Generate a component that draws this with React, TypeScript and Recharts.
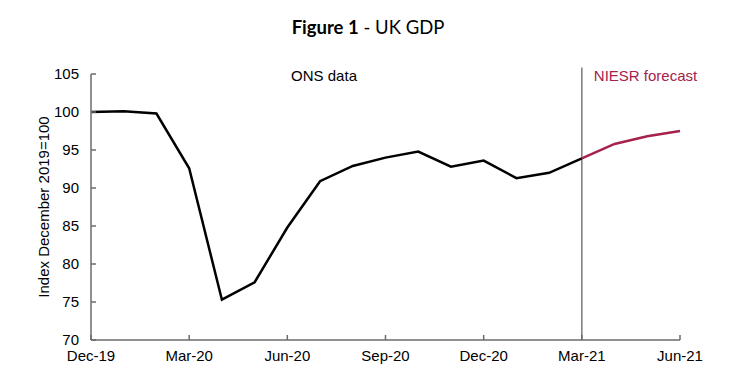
import React from "react";
import {
  LineChart,
  Line,
  XAxis,
  YAxis,
  ReferenceLine,
  ReferenceDot,
} from "recharts";

const months = [
  "Dec-19", "Jan-20", "Feb-20", "Mar-20", "Apr-20", "May-20", "Jun-20",
  "Jul-20", "Aug-20", "Sep-20", "Oct-20", "Nov-20", "Dec-20",
  "Jan-21", "Feb-21", "Mar-21", "Apr-21", "May-21", "Jun-21",
];

// ONS outturn, Dec-19 to Mar-21
const onsData = [
  100.0, 100.1, 99.8, 92.6, 75.3, 77.6, 84.8,
  90.9, 92.9, 94.0, 94.8, 92.8, 93.6,
  91.3, 92.0, 93.9,
];

// NIESR forecast, Mar-21 to Jun-21
const niesrData = [93.9, 95.8, 96.8, 97.5];
const forecastStart = 15;

const yTicks = [70, 75, 80, 85, 90, 95, 100, 105];

const data = months.map((m, i) => ({
  month: m,
  ons: i < onsData.length ? onsData[i] : null,
  niesr: i >= forecastStart ? niesrData[i - forecastStart] : null,
}));

const AXIS = "#6b6b6b";
const FONT = "'Liberation Sans', Arial, sans-serif";
const FS = 15;

const XTick = (props: any) => {
  const { x, y, payload } = props;
  return (
    <g>
      <line x1={x} y1={y} x2={x} y2={y - 5} stroke={AXIS} strokeWidth={1.5} />
      <text x={x} y={y + 21} textAnchor="middle" fill="#000" fontSize={FS} fontFamily={FONT}>
        {payload.value}
      </text>
    </g>
  );
};

const YTick = (props: any) => {
  const { x, y, payload } = props;
  return (
    <g>
      <line x1={x} y1={y} x2={x + 5} y2={y} stroke={AXIS} strokeWidth={1.5} />
      <text x={x - 12} y={y + 5} textAnchor="end" fill="#000" fontSize={FS} fontFamily={FONT}>
        {payload.value}
      </text>
    </g>
  );
};

export default function App() {
  return (
    <div style={{ position: "absolute", left: 0, top: 0, width: 736, height: 386, background: "#fff" }}>
      <div
        style={{
          position: "absolute",
          top: 16,
          left: 0,
          width: 736,
          textAlign: "center",
          fontFamily: "Lato, sans-serif",
          fontSize: 18.5,
          color: "#000",
        }}
      >
        <b>Figure 1</b> - UK GDP
      </div>
      <LineChart
        width={736}
        height={386}
        data={data}
        margin={{ top: 74, right: 56, bottom: 45, left: 41 }}
      >
        <XAxis
          dataKey="month"
          interval={2}
          tickSize={0}
          tickMargin={0}
          tick={<XTick />}
          axisLine={{ stroke: AXIS, strokeWidth: 1.5 }}
          height={1}
        />
        <YAxis
          domain={[70, 105]}
          ticks={yTicks}
          width={50}
          tickSize={0}
          tickMargin={0}
          tick={<YTick />}
          axisLine={{ stroke: AXIS, strokeWidth: 1.5 }}
          label={(p: any) => {
            const vb = p.viewBox;
            const cx = 43;
            const cy = vb.y + vb.height / 2;
            return (
              <text
                x={cx}
                y={cy}
                transform={`rotate(-90 ${cx} ${cy})`}
                textAnchor="middle"
                dominantBaseline="central"
                fill="#000"
                fontSize={FS}
                fontFamily={FONT}
              >
                Index December 2019=100
              </text>
            );
          }}
        />
        <ReferenceLine
          segment={[
            { x: "Mar-21", y: 70 },
            { x: "Mar-21", y: 105.85 },
          ]}
          ifOverflow="visible"
          stroke="#7a7a7a"
          strokeWidth={1.5}
          label={(p: any) => (
            <text
              x={p.viewBox.x + 12}
              y={p.viewBox.y + 13}
              fill="#a6224b"
              fontSize={FS}
              fontFamily={FONT}
            >
              NIESR forecast
            </text>
          )}
        />
        <ReferenceDot
          x="Jul-20"
          y={104.8}
          r={0}
          ifOverflow="visible"
          label={{
            value: "ONS data",
            position: "center",
            dx: 4,
            style: { fontSize: FS, fontFamily: FONT, fill: "#000" },
          }}
        />
        <Line
          dataKey="ons"
          stroke="#000"
          strokeWidth={2.5}
          dot={false}
          isAnimationActive={false}
          connectNulls={false}
        />
        <Line
          dataKey="niesr"
          stroke="#a6224b"
          strokeWidth={2.5}
          dot={false}
          isAnimationActive={false}
          connectNulls={false}
        />
      </LineChart>
    </div>
  );
}
